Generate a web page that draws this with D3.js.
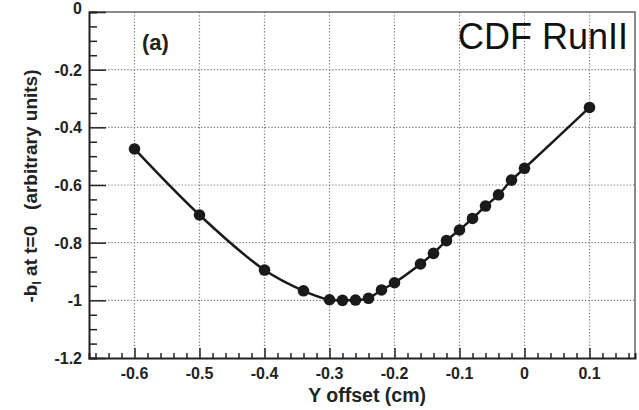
<!DOCTYPE html>
<html>
<head>
<meta charset="utf-8">
<script src="https://cdn.jsdelivr.net/npm/d3@7"></script>
<style>
  body { margin: 0; background: #fff; }
  svg { display: block; font-family: "Liberation Sans", Arial, sans-serif; }
</style>
</head>
<body>
<div id="container"></div>
<script>
// values
var offsets = [-0.6, -0.5, -0.4, -0.34, -0.3, -0.28, -0.26, -0.24, -0.22, -0.2,
  -0.16, -0.14, -0.12, -0.1, -0.08, -0.06, -0.04, -0.02, 0, 0.1];
var bValues = [-0.475, -0.704, -0.895, -0.967, -0.998, -1.0, -0.999, -0.993, -0.964, -0.939,
  -0.874, -0.837, -0.793, -0.756, -0.716, -0.673, -0.634, -0.583, -0.542, -0.331];
var xTicks = [-0.6, -0.5, -0.4, -0.3, -0.2, -0.1, 0, 0.1];
var yTicks = [0, -0.2, -0.4, -0.6, -0.8, -1, -1.2];

var width = 639, height = 410;
var plotLeft = 89, plotRight = 635, plotTop = 12, plotBottom = 358;

var svg = d3.select("#container").append("svg")
  .attr("width", width)
  .attr("height", height);

var x = d3.scaleLinear().domain([-0.67, 0.17]).range([plotLeft, plotRight]);
var y = d3.scaleLinear().domain([-1.2, 0]).range([plotBottom, plotTop]);
var fmt = d => d3.format(".1~f")(d).replace("−", "-");

// grid
svg.append("g").selectAll("line")
  .data(xTicks)
  .enter().append("line")
  .attr("x1", d => x(d)).attr("x2", d => x(d))
  .attr("y1", plotTop).attr("y2", plotBottom)
  .attr("stroke", "#777").attr("stroke-width", 1.2)
  .attr("stroke-dasharray", "1.2,2");

svg.append("g").selectAll("line")
  .data(yTicks.filter(d => d < 0 && d > -1.2))
  .enter().append("line")
  .attr("x1", plotLeft).attr("x2", plotRight)
  .attr("y1", d => y(d)).attr("y2", d => y(d))
  .attr("stroke", "#777").attr("stroke-width", 1.2)
  .attr("stroke-dasharray", "1.2,2");

// frame top / right
svg.append("path")
  .attr("d", "M" + plotLeft + "," + plotTop + "H" + plotRight + "V" + plotBottom)
  .attr("fill", "none").attr("stroke", "#666").attr("stroke-width", 1.5);

// x axis, ticks pointing up
var xAxis = d3.axisTop(x)
  .tickValues(d3.range(-66, 17, 2).map(d => d / 100))
  .tickSize(5)
  .tickFormat("");
var xAxisG = svg.append("g")
  .attr("transform", "translate(0," + plotBottom + ")")
  .call(xAxis);
xAxisG.selectAll(".tick line")
  .attr("y2", d => Math.abs(Math.round(d * 100)) % 10 === 0 ? -10 : -5);

// y axis, ticks pointing right
var yAxis = d3.axisRight(y)
  .tickValues(d3.range(-120, 1, 5).map(d => d / 100))
  .tickSize(8)
  .tickFormat("");
var yAxisG = svg.append("g")
  .attr("transform", "translate(" + plotLeft + ",0)")
  .call(yAxis);
yAxisG.selectAll(".tick line")
  .attr("x2", d => Math.abs(Math.round(d * 100)) % 20 === 0 ? 17 : 8);

[xAxisG, yAxisG].forEach(function (g) {
  g.select(".domain").attr("stroke", "#222").attr("stroke-width", 2);
  g.selectAll(".tick line").attr("stroke", "#222").attr("stroke-width", 1.5);
});

// tick labels
svg.append("g").selectAll("text")
  .data(xTicks)
  .enter().append("text")
  .attr("x", d => x(d))
  .attr("y", 379)
  .attr("text-anchor", "middle")
  .attr("font-size", 16).attr("font-weight", "bold").attr("fill", "#222")
  .text(fmt);

svg.append("g").selectAll("text")
  .data(yTicks)
  .enter().append("text")
  .attr("x", 82)
  .attr("y", d => d === 0 ? 14 : y(d) + 6)
  .attr("text-anchor", "end")
  .attr("font-size", 16).attr("font-weight", "bold").attr("fill", "#222")
  .text(fmt);

// curve and points
var line = d3.line()
  .x((d, i) => x(offsets[i]))
  .y(d => y(d))
  .curve(d3.curveCatmullRom.alpha(0.5));

svg.append("path")
  .datum(bValues)
  .attr("d", line)
  .attr("fill", "none")
  .attr("stroke", "#1a1a1a")
  .attr("stroke-width", 2.5);

svg.append("g").selectAll("circle")
  .data(bValues)
  .enter().append("circle")
  .attr("cx", (d, i) => x(offsets[i]))
  .attr("cy", d => y(d))
  .attr("r", 5.8)
  .attr("fill", "#1a1a1a");

// labels
svg.append("text")
  .attr("x", 142).attr("y", 50)
  .attr("font-size", 22).attr("font-weight", "bold").attr("fill", "#222")
  .text("(a)");

svg.append("text")
  .attr("x", 628).attr("y", 49)
  .attr("text-anchor", "end")
  .attr("font-size", 36).attr("fill", "#111")
  .text("CDF RunII");

svg.append("text")
  .attr("x", 426).attr("y", 402)
  .attr("text-anchor", "end")
  .attr("font-size", 19.5).attr("font-weight", "bold").attr("fill", "#222")
  .text("Y offset (cm)");

var yTitle = svg.append("text")
  .attr("transform", "translate(37,186) rotate(-90)")
  .attr("text-anchor", "middle")
  .attr("font-size", 19).attr("font-weight", "bold").attr("fill", "#222");
yTitle.append("tspan").text("-b");
yTitle.append("tspan").attr("font-size", 12).attr("dy", 4).text("l");
yTitle.append("tspan").attr("dy", -4).attr("xml:space", "preserve").text(" at t=0   (arbitrary units)");
</script>
</body>
</html>
